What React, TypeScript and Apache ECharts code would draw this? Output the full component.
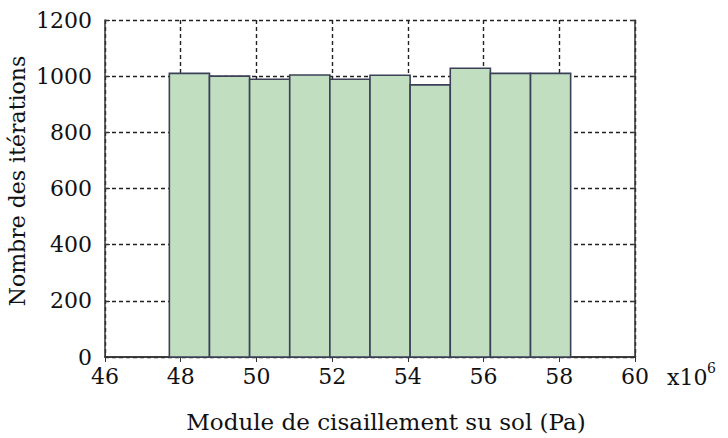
import React, { useEffect, useRef } from "react";
import * as echarts from "echarts";

const binEdges = [47.70, 48.76, 49.82, 50.88, 51.94, 53.00, 54.06, 55.12, 56.18, 57.24, 58.30];
const counts = [1010, 1000, 989, 1004, 989, 1003, 969, 1028, 1010, 1010];
const xTicks = [46, 48, 50, 52, 54, 56, 58, 60];
const yTicks = [0, 200, 400, 600, 800, 1000, 1200];

const FONT = "DejaVu Serif";

export default function App() {
  const ref = useRef<HTMLDivElement>(null);
  useEffect(() => {
    document.body.style.margin = "0";
    const chart = echarts.init(ref.current!, null, { renderer: "svg" });
    const data = counts.map((c, i) => [binEdges[i], binEdges[i + 1], c]);
    const axisLine = { show: true, lineStyle: { color: "#333", width: 1.5 } };
    const split = { show: true, lineStyle: { color: "#222", type: [4, 3], width: 1.4 } };
    const txt = { fontFamily: FONT, fontSize: 22, color: "#111" };
    chart.setOption({
      animation: false,
      backgroundColor: "#fff",
      textStyle: { fontFamily: FONT },
      grid: { left: 105, right: 93, top: 20, bottom: 81 },
      xAxis: [
        {
          type: "value",
          min: xTicks[0],
          max: xTicks[xTicks.length - 1],
          interval: 2,
          axisLine,
          axisTick: { show: true, inside: true, length: 5, lineStyle: { color: "#333" } },
          splitLine: split,
          axisLabel: { ...txt, margin: 8, formatter: (v: number) => String(v) },
        },
        {
          type: "value",
          position: "top",
          min: xTicks[0],
          max: xTicks[xTicks.length - 1],
          interval: 2,
          axisLine,
          axisTick: { show: true, inside: true, length: 5, lineStyle: { color: "#333" } },
          splitLine: { show: false },
          axisLabel: { show: false },
        },
      ],
      yAxis: [
        {
          type: "value",
          min: yTicks[0],
          max: yTicks[yTicks.length - 1],
          interval: 200,
          axisLine,
          axisTick: { show: true, inside: true, length: 5, lineStyle: { color: "#333" } },
          splitLine: split,
          axisLabel: { ...txt, margin: 13, formatter: (v: number) => String(v) },
        },
        {
          type: "value",
          position: "right",
          min: yTicks[0],
          max: yTicks[yTicks.length - 1],
          interval: 200,
          axisLine,
          axisTick: { show: true, inside: true, length: 5, lineStyle: { color: "#333" } },
          splitLine: { show: false },
          axisLabel: { show: false },
        },
      ],
      series: [
        {
          type: "custom",
          xAxisIndex: 0,
          yAxisIndex: 0,
          data,
          encode: { x: [0, 1], y: 2 },
          renderItem: (params: any, api: any) => {
            const p0 = api.coord([api.value(0), api.value(2)]);
            const p1 = api.coord([api.value(1), 0]);
            return {
              type: "rect",
              shape: { x: p0[0], y: p0[1], width: p1[0] - p0[0], height: p1[1] - p0[1] },
              style: { fill: "#c1dec1", stroke: "#3b4057", lineWidth: 1.6 },
            };
          },
        },
      ],
      graphic: [
        {
          type: "text",
          x: 386,
          y: 410,
          style: {
            text: "Module de cisaillement su sol (Pa)",
            ...txt,
            fontSize: 23,
            fill: "#111",
            align: "center",
            verticalAlign: "top",
          },
        },
        {
          type: "text",
          x: 6,
          y: 181,
          rotation: Math.PI / 2,
          style: {
            text: "Nombre des itérations",
            ...txt,
            fontSize: 22,
            fill: "#111",
            align: "center",
            verticalAlign: "top",
          },
        },
        {
          type: "text",
          x: 667,
          y: 366,
          style: { text: "x10", ...txt, fill: "#111" },
        },
        {
          type: "text",
          x: 707,
          y: 361,
          style: { text: "6", ...txt, fontSize: 14, fill: "#111" },
        },
      ],
    });
    return () => chart.dispose();
  }, []);
  return <div ref={ref} style={{ width: 728, height: 438 }} />;
}
